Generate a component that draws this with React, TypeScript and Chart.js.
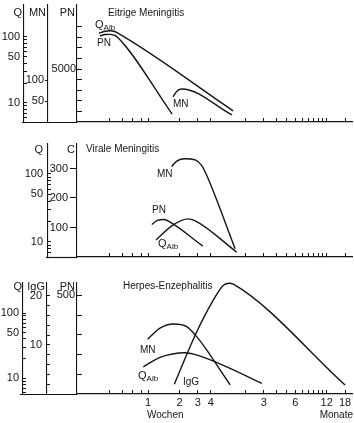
import React, { useEffect, useRef } from 'react';
import { Chart, registerables } from 'chart.js';

Chart.register(...registerables);

const INK = '#151515';
const FONT = '"Liberation Sans", Arial, sans-serif';

// ---- shared time axis (days, logarithmic) ----
const X_MIN_DAYS = 1.46;
const X_MAX_DAYS = 630;
const X_TICK_DAYS = [3, 4, 5, 6, 7, 14, 21, 28, 60, 90, 120, 150, 180, 210, 240, 270, 300, 330, 360, 540];
const X_LABELED_DAYS = [7, 14, 21, 28, 90, 180, 360, 540];
const X_TICK_LABELS = ['1', '2', '3', '4', '3', '6', '12', '18'];

// ---- Panel 1: Eitrige Meningitis ----
const P1_QALB_DAYS = [2.37, 2.65, 3.03, 3.3, 3.53, 45.7];
const P1_QALB = [114, 121, 124, 122, 116, 7.6];
const P1_PN_DAYS = [2.42, 2.7, 3.03, 3.3, 3.53, 11.9];
const P1_PN = [8110, 8250, 8270, 8200, 8050, 750];
const P1_MN_DAYS = [12.15, 13.3, 14.8, 44.7];
const P1_MN = [60, 74, 78.5, 16.7];
const P1_Q_TICKS = [6, 7, 8, 9, 10, 20, 30, 40, 50, 60, 70, 80, 90, 100];
const P1_Q_LABELS = [10, 50, 100];
const P1_MN_TICKS = [50, 100];
const P1_MN_LABELS = [50, 100];
const P1_PN_TICKS = [1000, 2000, 3000, 4000, 5000, 6000, 7000, 8000, 9000];
const P1_PN_LABELS = [5000];

// ---- Panel 2: Virale Meningitis ----
const P2_MN_DAYS = [11.8, 13.2, 15.8, 19.8, 22.9, 25.6, 47.8];
const P2_MN = [307, 325, 333, 329, 310, 276, 28];
const P2_PN_DAYS = [7.6, 8.6, 9.97, 11.4, 23.4];
const P2_PN = [110, 124, 127, 118, 37];
const P2_QALB_DAYS = [8.35, 12.2, 17.0, 20.5, 49.6];
const P2_QALB = [10.7, 17.8, 21.8, 19.9, 7.06];
const P2_Q_TICKS = [7, 8, 9, 10, 20, 30, 40, 50, 60, 70, 80, 90, 100];
const P2_Q_LABELS = [10, 50, 100];
const P2_C_TICKS = [100, 200, 300];
const P2_C_LABELS = [100, 200, 300];

// ---- Panel 3: Herpes-Enzephalitis ----
const P3_IGG_DAYS = [12.5, 19.8, 29.6, 36.9, 42.1, 46.0, 541];
const P3_IGG = [2.0, 12.0, 19.2, 22.2, 22.6, 22.4, 1.84];
const P3_MN_DAYS = [6.93, 9.12, 12.2, 16.4, 19.8, 25.6, 34.3, 42.8];
const P3_MN = [278, 334, 355, 342, 300, 223, 122, 46];
const P3_QALB_DAYS = [6.3, 9.12, 15.8, 22.1, 39.8, 86.2];
const P3_QALB = [14.9, 20.8, 24.5, 21.8, 14.9, 8.28];
const P3_Q_TICKS = [6, 7, 8, 9, 10, 20, 30, 40, 50, 60, 70, 80, 90, 100];
const P3_Q_LABELS = [10, 50, 100];
const P3_IGG_TICKS = [2, 4, 6, 8, 10, 12, 14, 16, 18, 20];
const P3_IGG_LABELS = [10, 20];
const P3_PN_TICKS = [100, 200, 300, 400, 500];
const P3_PN_LABELS = [500];

type AxisSpec = {
  id: string; type: 'linear' | 'logarithmic'; min: number; max: number;
  ticks: number[]; labels: number[]; width: number; tl: number; pad: number;
};
type Series = { days: number[]; values: number[]; axis: string };
type Note = { text: string; sub?: string; x: number; y: number; align?: CanvasTextAlign; size?: number };
type Panel = {
  top: number; height: number; padTop: number; xHeight: number; showXLabels: boolean;
  baseLeft: number; axes: AxisSpec[]; series: Series[]; notes: Note[];
};

const PANELS: Panel[] = [
  {
    top: 0, height: 128, padTop: 5, xHeight: 6, showXLabels: false, baseLeft: 22,
    axes: [
      { id: 'q', type: 'logarithmic', min: 5.15, max: 305, ticks: P1_Q_TICKS, labels: P1_Q_LABELS, width: 24, tl: -3, pad: 7 },
      { id: 'mn', type: 'linear', min: 0, max: 278.6, ticks: P1_MN_TICKS, labels: P1_MN_LABELS, width: 24, tl: 3, pad: 1 },
      { id: 'pn', type: 'linear', min: 0, max: 11038, ticks: P1_PN_TICKS, labels: P1_PN_LABELS, width: 29, tl: -5, pad: 6 },
    ],
    series: [
      { days: P1_QALB_DAYS, values: P1_QALB, axis: 'q' },
      { days: P1_PN_DAYS, values: P1_PN, axis: 'pn' },
      { days: P1_MN_DAYS, values: P1_MN, axis: 'mn' },
    ],
    notes: [
      { text: 'Q', x: 22, y: 13, align: 'right' },
      { text: 'MN', x: 46, y: 13, align: 'right' },
      { text: 'PN', x: 75, y: 13, align: 'right' },
      { text: 'Eitrige Meningitis', x: 108, y: 13, size: 10 },
      { text: 'Q', sub: 'Alb', x: 95, y: 25 },
      { text: 'PN', x: 97, y: 43, size: 10 },
      { text: 'MN', x: 173, y: 104, size: 10 },
    ],
  },
  {
    top: 130, height: 133, padTop: 14, xHeight: 6, showXLabels: false, baseLeft: 46,
    axes: [
      { id: 'q', type: 'logarithmic', min: 6.0, max: 276, ticks: P2_Q_TICKS, labels: P2_Q_LABELS, width: 48, tl: -3, pad: 8 },
      { id: 'c', type: 'linear', min: 0, max: 383, ticks: P2_C_TICKS, labels: P2_C_LABELS, width: 29, tl: 7, pad: 2 },
    ],
    series: [
      { days: P2_MN_DAYS, values: P2_MN, axis: 'c' },
      { days: P2_PN_DAYS, values: P2_PN, axis: 'c' },
      { days: P2_QALB_DAYS, values: P2_QALB, axis: 'q' },
    ],
    notes: [
      { text: 'Q', x: 43, y: 150, align: 'right' },
      { text: 'C', x: 75, y: 150, align: 'right' },
      { text: 'Virale Meningitis', x: 86, y: 149, size: 10 },
      { text: 'MN', x: 157, y: 174, size: 10 },
      { text: 'PN', x: 152, y: 210, size: 10 },
      { text: 'Q', sub: 'Alb', x: 158, y: 244 },
    ],
  },
  {
    top: 270, height: 153, padTop: 13, xHeight: 29, showXLabels: true, baseLeft: 20,
    axes: [
      { id: 'q', type: 'logarithmic', min: 5.7, max: 289, ticks: P3_Q_TICKS, labels: P3_Q_LABELS, width: 23, tl: -3, pad: 7 },
      { id: 'igg', type: 'linear', min: 0, max: 22.65, ticks: P3_IGG_TICKS, labels: P3_IGG_LABELS, width: 24, tl: -3, pad: 8 },
      { id: 'pn', type: 'linear', min: 0, max: 563, ticks: P3_PN_TICKS, labels: P3_PN_LABELS, width: 30, tl: -5, pad: 7 },
    ],
    series: [
      { days: P3_IGG_DAYS, values: P3_IGG, axis: 'igg' },
      { days: P3_MN_DAYS, values: P3_MN, axis: 'pn' },
      { days: P3_QALB_DAYS, values: P3_QALB, axis: 'q' },
    ],
    notes: [
      { text: 'Q', x: 22, y: 287, align: 'right' },
      { text: 'IgG', x: 45, y: 287, align: 'right' },
      { text: 'PN', x: 75, y: 287, align: 'right' },
      { text: 'Herpes-Enzephalitis', x: 123, y: 286, size: 10 },
      { text: 'MN', x: 140, y: 350, size: 10 },
      { text: 'Q', sub: 'Alb', x: 138, y: 376 },
      { text: 'IgG', x: 183, y: 382, size: 10 },
      { text: 'Wochen', x: 147, y: 415, size: 10 },
      { text: 'Monate', x: 353, y: 415, size: 10, align: 'right' },
    ],
  },
];

function buildConfig(p: Panel): any {
  const scales: any = {
    x: {
      type: 'logarithmic',
      position: 'bottom',
      min: X_MIN_DAYS,
      max: X_MAX_DAYS,
      bounds: 'data',
      afterBuildTicks: (s: any) => { s.ticks = X_TICK_DAYS.map((v) => ({ value: v })); },
      afterFit: (s: any) => { s.height = p.xHeight; s.paddingLeft = 0; s.paddingRight = 0; },
      ticks: {
        display: p.showXLabels,
        autoSkip: false,
        maxRotation: 0,
        minRotation: 0,
        padding: 6,
        color: INK,
        font: { family: FONT, size: 11 },
        callback: (v: number) => {
          const i = X_LABELED_DAYS.indexOf(v);
          return i >= 0 ? X_TICK_LABELS[i] : '';
        },
      },
      grid: { drawOnChartArea: false, drawTicks: true, tickLength: -4, tickColor: INK, tickWidth: 1 },
      border: { display: true, color: INK, width: 1.2 },
    },
  };
  p.axes.forEach((a, i) => {
    scales[a.id] = {
      type: a.type,
      position: 'left',
      weight: p.axes.length - i,
      min: a.min,
      max: a.max,
      bounds: 'data',
      afterBuildTicks: (s: any) => { s.ticks = a.ticks.map((v) => ({ value: v })); },
      afterFit: (s: any) => { s.width = a.width; s.paddingTop = 0; s.paddingBottom = 0; },
      ticks: {
        autoSkip: false,
        padding: a.pad,
        color: INK,
        font: { family: FONT, size: 11 },
        callback: (v: number) => (a.labels.includes(v) ? String(v) : ''),
      },
      grid: { drawOnChartArea: false, drawTicks: true, tickLength: a.tl, tickColor: INK, tickWidth: 1 },
      border: { display: true, color: INK, width: 1.1 },
    };
  });

  const notesPlugin = {
    id: 'notes',
    afterDraw(chart: any) {
      const ctx: CanvasRenderingContext2D = chart.ctx;
      const xs = chart.scales.x;
      ctx.save();
      ctx.strokeStyle = INK;
      ctx.lineWidth = 1.2;
      ctx.beginPath();
      const yb = Math.round(xs.top) + 0.5;
      ctx.moveTo(p.baseLeft, yb);
      ctx.lineTo(chart.chartArea.left, yb);
      ctx.stroke();
      ctx.fillStyle = INK;
      ctx.textBaseline = 'middle';
      for (const n of p.notes) {
        const size = n.size ?? 11;
        ctx.font = `${size}px ${FONT}`;
        ctx.textAlign = n.align ?? 'left';
        const y = n.y - p.top;
        ctx.fillText(n.text, n.x, y);
        if (n.sub) {
          const w = ctx.measureText(n.text).width;
          ctx.font = `8px ${FONT}`;
          ctx.textAlign = 'left';
          ctx.fillText(n.sub, n.x + w, y + 3);
        }
      }
      ctx.restore();
    },
  };

  return {
    type: 'line',
    data: {
      datasets: p.series.map((s) => ({
        data: s.days.map((d, i) => ({ x: d, y: s.values[i] })),
        yAxisID: s.axis,
        xAxisID: 'x',
        borderColor: INK,
        borderWidth: 1.4,
        pointRadius: 0,
        fill: false,
        cubicInterpolationMode: 'monotone',
        clip: false,
      })),
    },
    options: {
      responsive: false,
      animation: false,
      devicePixelRatio: 1,
      events: [],
      layout: { padding: { top: p.padTop, left: 0, right: 2, bottom: 0 } },
      plugins: { legend: { display: false }, tooltip: { enabled: false }, title: { display: false } },
      scales,
    },
    plugins: [notesPlugin],
  };
}

function PanelChart({ p }: { p: Panel }) {
  const ref = useRef<HTMLCanvasElement>(null);
  useEffect(() => {
    const chart = new Chart(ref.current as HTMLCanvasElement, buildConfig(p));
    return () => chart.destroy();
  }, [p]);
  return (
    <canvas
      ref={ref}
      width={354}
      height={p.height}
      style={{ position: 'absolute', left: 0, top: p.top, width: 354, height: p.height }}
    />
  );
}

export default function App() {
  return (
    <div style={{ position: 'fixed', left: 0, top: 0, width: 354, height: 423, background: '#fff' }}>
      {PANELS.map((p, i) => (
        <PanelChart key={i} p={p} />
      ))}
    </div>
  );
}
